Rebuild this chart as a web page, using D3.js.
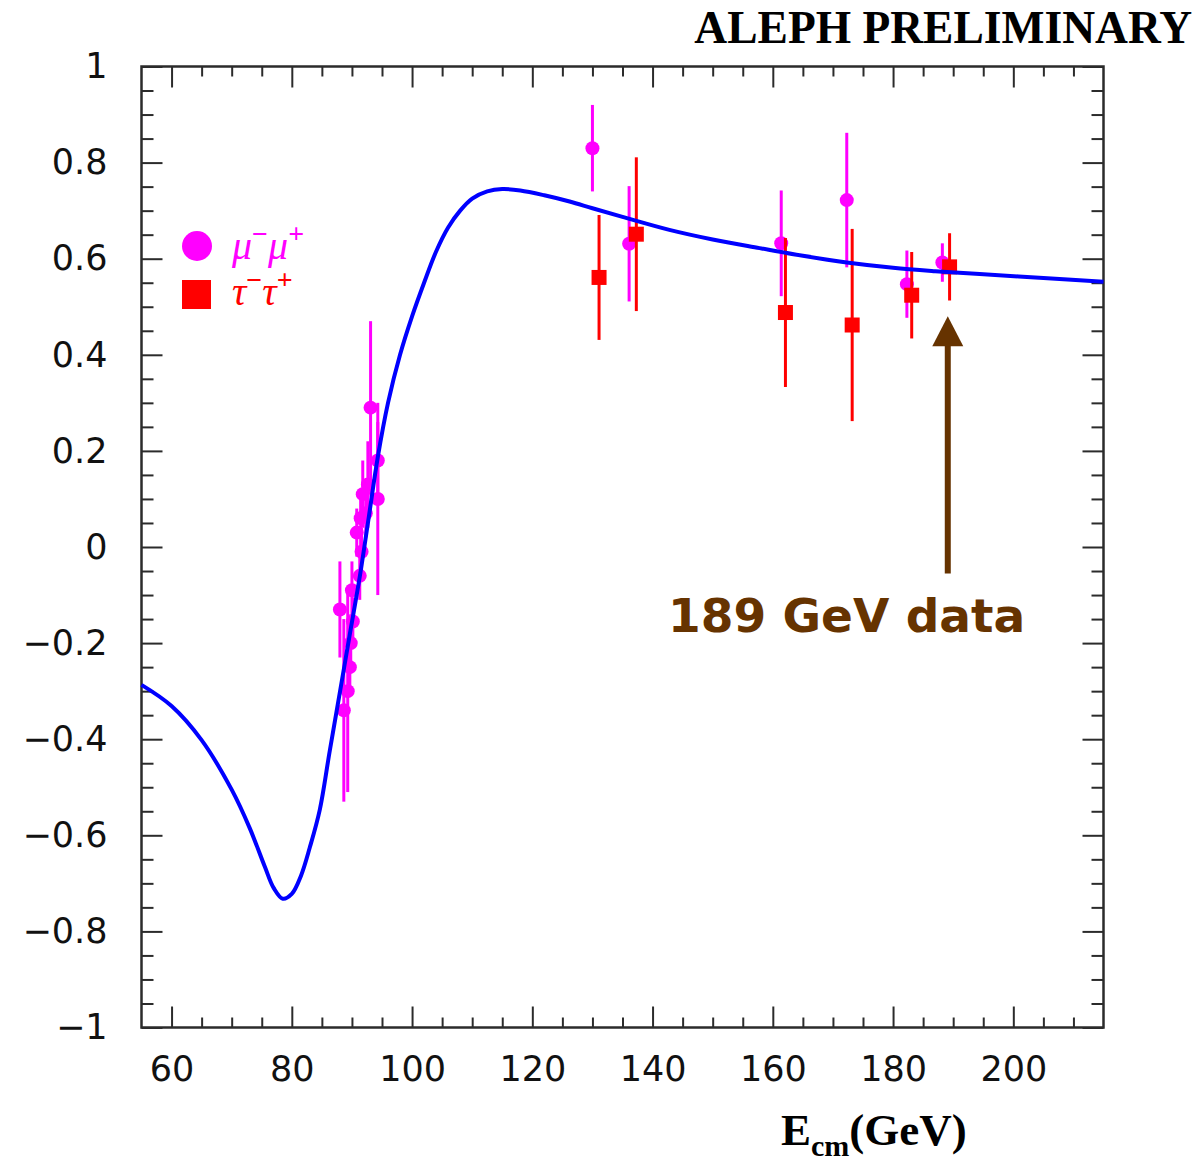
<!DOCTYPE html>
<html>
<head>
<meta charset="utf-8">
<script src="https://cdn.jsdelivr.net/npm/d3@7"></script>
<style>
  body { margin: 0; background: #fff; }
  svg { display: block; }
</style>
</head>
<body>
<div id="chart"></div>
<script>
// theory curve
const curveE = [55, 60, 65, 70, 73, 75.5, 77, 78.5, 80, 81.5, 83, 84.65, 86.3, 88, 89.6, 91.3, 92.8, 94.3, 96, 98, 100, 102, 104, 106, 108, 110, 112.5, 115, 118, 122, 126.2, 130, 135, 142.8, 150, 157.8, 165, 172.3, 180, 187, 194.4, 205, 215];
const curveA = [-0.287, -0.331, -0.402, -0.505, -0.585, -0.665, -0.710, -0.732, -0.722, -0.685, -0.625, -0.547, -0.425, -0.302, -0.185, -0.062, 0.062, 0.187, 0.300, 0.400, 0.480, 0.550, 0.615, 0.665, 0.700, 0.725, 0.740, 0.745, 0.742, 0.732, 0.719, 0.705, 0.687, 0.660, 0.640, 0.622, 0.606, 0.592, 0.581, 0.574, 0.568, 0.560, 0.552];

// mu+mu- points
const muE   = [88.0, 88.65, 89.3, 89.65, 89.8, 90.15, 90.0, 91.3, 91.6, 90.8, 91.45, 91.8, 92.3, 92.65, 93.1, 94.3, 94.3, 130.0, 136.1, 161.4, 172.3, 182.3, 188.2];
const muA   = [-0.13, -0.34, -0.30, -0.25, -0.20, -0.155, -0.09, -0.06, -0.01, 0.03, 0.06, 0.11, 0.07, 0.13, 0.29, 0.18, 0.10, 0.830, 0.631, 0.632, 0.722, 0.547, 0.592];
const muErr = [0.10, 0.19, 0.21, 0.05, 0.06, 0.05, 0.06, 0.05, 0.05, 0.05, 0.06, 0.07, 0.05, 0.09, 0.18, 0.08, 0.20, 0.09, 0.12, 0.11, 0.14, 0.07, 0.04];

// tau+tau- points
const tauE   = [131.1, 137.3, 162.1, 173.2, 183.1, 189.4];
const tauA   = [0.561, 0.651, 0.488, 0.462, 0.524, 0.583];
const tauErr = [0.13, 0.16, 0.155, 0.20, 0.09, 0.07];

const xTicks = [60, 80, 100, 120, 140, 160, 180, 200];
const yTicks = [-1, -0.8, -0.6, -0.4, -0.2, 0, 0.2, 0.4, 0.6, 0.8, 1];

const arrowE = 189.1, arrowFrom = -0.055, arrowTo = 0.48;

const width = 1198, height = 1166;
const plot = {left: 141.5, right: 1103.5, top: 66.5, bottom: 1027.5};
const axisColor = "#2b2b2b";

const x = d3.scaleLinear().domain([55, 215]).range([plot.left, plot.right]);
const y = d3.scaleLinear().domain([-1, 1]).range([plot.bottom, plot.top]);

const xMinor = d3.range(65, 215, 5).filter(v => v % 20 !== 0);
const yMinor = d3.range(-19, 20).map(i => i * 0.05).filter(v => Math.abs(v * 5 - Math.round(v * 5)) > 1e-6);

const svg = d3.select("#chart").append("svg")
    .attr("width", width)
    .attr("height", height)
    .attr("viewBox", [0, 0, width, height]);

const styleAxis = g => {
    g.select(".domain").remove();
    g.selectAll(".tick line").attr("stroke", axisColor).attr("stroke-width", 2);
    g.selectAll(".tick text")
        .attr("fill", "#111")
        .style("font-family", "'DejaVu Sans', sans-serif")
        .style("font-size", "35px");
};

// major + minor ticks on all four sides, pointing inwards
svg.append("g").attr("transform", `translate(0,${plot.bottom})`)
    .call(d3.axisBottom(x).tickValues(xTicks).tickSize(-21).tickPadding(29).tickFormat(d3.format("d")))
    .call(styleAxis);
svg.append("g").attr("transform", `translate(0,${plot.bottom})`)
    .call(d3.axisBottom(x).tickValues(xMinor).tickSize(-10).tickFormat(""))
    .call(styleAxis);
svg.append("g").attr("transform", `translate(0,${plot.top})`)
    .call(d3.axisTop(x).tickValues(xTicks).tickSize(-21).tickFormat(""))
    .call(styleAxis);
svg.append("g").attr("transform", `translate(0,${plot.top})`)
    .call(d3.axisTop(x).tickValues(xMinor).tickSize(-10).tickFormat(""))
    .call(styleAxis);

svg.append("g").attr("transform", `translate(${plot.left},0)`)
    .call(d3.axisLeft(y).tickValues(yTicks).tickSize(-21).tickPadding(34).tickFormat(d3.format("~g")))
    .call(styleAxis);
svg.append("g").attr("transform", `translate(${plot.left},0)`)
    .call(d3.axisLeft(y).tickValues(yMinor).tickSize(-12).tickFormat(""))
    .call(styleAxis);
svg.append("g").attr("transform", `translate(${plot.right},0)`)
    .call(d3.axisRight(y).tickValues(yTicks).tickSize(-21).tickFormat(""))
    .call(styleAxis);
svg.append("g").attr("transform", `translate(${plot.right},0)`)
    .call(d3.axisRight(y).tickValues(yMinor).tickSize(-12).tickFormat(""))
    .call(styleAxis);

svg.append("rect")
    .attr("x", plot.left).attr("y", plot.top)
    .attr("width", plot.right - plot.left).attr("height", plot.bottom - plot.top)
    .attr("fill", "none").attr("stroke", axisColor).attr("stroke-width", 2.5);

// data points
const mu = muE.map((e, i) => ({e, a: muA[i], err: muErr[i]}));
const tau = tauE.map((e, i) => ({e, a: tauA[i], err: tauErr[i]}));

const pts = svg.append("g");
pts.selectAll("line.mu").data(mu).join("line")
    .attr("x1", d => x(d.e)).attr("x2", d => x(d.e))
    .attr("y1", d => y(d.a + d.err)).attr("y2", d => y(d.a - d.err))
    .attr("stroke", "#ff00ff").attr("stroke-width", 3);
pts.selectAll("circle").data(mu).join("circle")
    .attr("cx", d => x(d.e)).attr("cy", d => y(d.a)).attr("r", 7)
    .attr("fill", "#ff00ff");
pts.selectAll("line.tau").data(tau).join("line")
    .attr("x1", d => x(d.e)).attr("x2", d => x(d.e))
    .attr("y1", d => y(d.a + d.err)).attr("y2", d => y(d.a - d.err))
    .attr("stroke", "#ff0000").attr("stroke-width", 3);
pts.selectAll("rect").data(tau).join("rect")
    .attr("x", d => x(d.e) - 7.5).attr("y", d => y(d.a) - 7.5)
    .attr("width", 15).attr("height", 15)
    .attr("fill", "#ff0000");

// theory curve
const line = d3.line()
    .x(d => x(d[0]))
    .y(d => y(d[1]))
    .curve(d3.curveCatmullRom.alpha(0.5));
svg.append("path")
    .datum(curveE.map((e, i) => [e, curveA[i]]))
    .attr("d", line)
    .attr("fill", "none")
    .attr("stroke", "#0000ff")
    .attr("stroke-width", 4);

// legend
svg.append("circle").attr("cx", 197).attr("cy", 246).attr("r", 15).attr("fill", "#ff00ff");
svg.append("rect").attr("x", 182).attr("y", 280).attr("width", 29).attr("height", 29).attr("fill", "#ff0000");

const legendText = (txt, yy, color) => {
    const t = svg.append("text")
        .attr("x", 232).attr("y", yy)
        .attr("fill", color)
        .style("font-family", "'Liberation Serif', serif")
        .style("font-style", "italic")
        .style("font-size", "40px");
    t.append("tspan").text(txt);
    t.append("tspan").attr("dy", -16).style("font-size", "28px").style("font-weight", "bold").style("font-style", "normal").text("\u2212");
    t.append("tspan").attr("dy", 16).text(txt);
    t.append("tspan").attr("dy", -16).style("font-size", "28px").style("font-weight", "bold").style("font-style", "normal").text("+");
};
legendText("\u03bc", 259, "#ff00ff");
legendText("\u03c4", 305, "#ff0000");

// arrow pointing at the 189 GeV data
const brown = "#663300";
svg.append("line")
    .attr("x1", x(arrowE)).attr("x2", x(arrowE))
    .attr("y1", y(arrowFrom)).attr("y2", y(arrowTo) + 26)
    .attr("stroke", brown).attr("stroke-width", 6);
svg.append("path")
    .attr("d", `M${x(arrowE)},${y(arrowTo)} L${x(arrowE) - 15.5},${y(arrowTo) + 30} L${x(arrowE) + 15.5},${y(arrowTo) + 30} Z`)
    .attr("fill", brown);
svg.append("text")
    .attr("x", 668).attr("y", 632)
    .attr("fill", brown)
    .style("font-family", "'Comic Sans MS', 'DejaVu Sans', sans-serif")
    .style("font-weight", "bold")
    .style("font-size", "47px")
    .text("189 GeV data");

// title
svg.append("text")
    .attr("x", 1192).attr("y", 43)
    .attr("text-anchor", "end")
    .attr("fill", "#000")
    .style("font-family", "'Liberation Serif', 'Times New Roman', serif")
    .style("font-weight", "bold")
    .style("font-size", "45.5px")
    .text("ALEPH PRELIMINARY");

// x axis title
const xt = svg.append("text")
    .attr("x", 781).attr("y", 1145)
    .attr("fill", "#000")
    .style("font-family", "'Liberation Serif', 'Times New Roman', serif")
    .style("font-weight", "bold")
    .style("font-size", "45px");
xt.append("tspan").text("E");
xt.append("tspan").attr("dy", 11).style("font-size", "30px").text("cm");
xt.append("tspan").attr("dy", -11).text("(GeV)");
</script>
</body>
</html>
